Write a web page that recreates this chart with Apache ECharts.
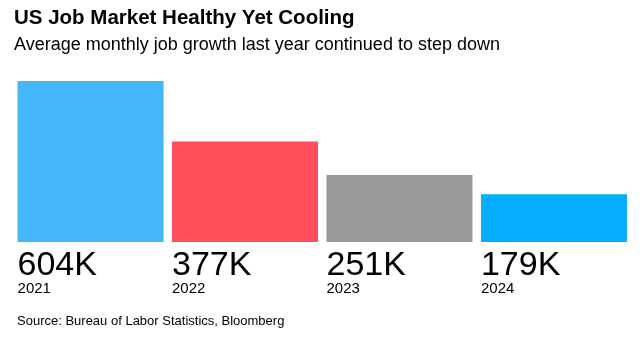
<!DOCTYPE html>
<html>
<head>
<meta charset="utf-8">
<style>
  html, body { margin: 0; padding: 0; background: #fff; }
  #chart { width: 640px; height: 337px; }
</style>
<script src="https://cdn.jsdelivr.net/npm/echarts@6/dist/echarts.min.js"></script>
</head>
<body>
<div id="chart"></div>
<script>
// Average monthly payroll gains, thousands of jobs
const years = ['2021', '2022', '2023', '2024'];
const jobGrowth = [604, 377, 251, 179];
const barColors = ['#44B7FB', '#FF4F5A', '#999999', '#05ADFF'];

const FONT = '"Liberation Sans", Arial, Helvetica, sans-serif';

const chart = echarts.init(document.getElementById('chart'), null, { renderer: 'canvas' });

chart.setOption({
  animation: false,
  backgroundColor: '#ffffff',
  title: [
    {
      text: 'US Job Market Healthy Yet Cooling',
      left: 14, top: 8, padding: 0,
      textStyle: { fontFamily: FONT, fontSize: 20.5, fontWeight: 'bold', color: '#000' }
    },
    {
      text: 'Average monthly job growth last year continued to step down',
      left: 14, top: 36, padding: 0,
      textStyle: { fontFamily: FONT, fontSize: 18, fontWeight: 'normal', color: '#000' }
    },
    {
      text: 'Source: Bureau of Labor Statistics, Bloomberg',
      left: 17, top: 315, padding: 0,
      textStyle: { fontFamily: FONT, fontSize: 13, fontWeight: 'normal', color: '#000' }
    }
  ],
  grid: { left: 13.3, right: 8.8, top: 81, bottom: 95, containLabel: false },
  xAxis: {
    type: 'category',
    data: years,
    axisLine: { show: false },
    axisTick: { show: false },
    axisLabel: { show: false },
    splitLine: { show: false }
  },
  yAxis: {
    type: 'value',
    min: 0,
    max: 604,
    show: false,
    splitLine: { show: false }
  },
  series: [{
    type: 'bar',
    barWidth: 146,
    data: jobGrowth.map((v, i) => ({ value: v, itemStyle: { color: barColors[i] } })),
    label: {
      show: true,
      position: [0, '100%'],
      align: 'left',
      verticalAlign: 'top',
      offset: [0, 8.5],
      formatter: p => '{v|' + p.value + 'K}\n{y|' + years[p.dataIndex] + '}',
      rich: {
        v: { fontFamily: FONT, fontSize: 34, lineHeight: 30, color: '#000' },
        y: { fontFamily: FONT, fontSize: 15, lineHeight: 16, color: '#000' }
      }
    }
  }]
});
</script>
</body>
</html>
